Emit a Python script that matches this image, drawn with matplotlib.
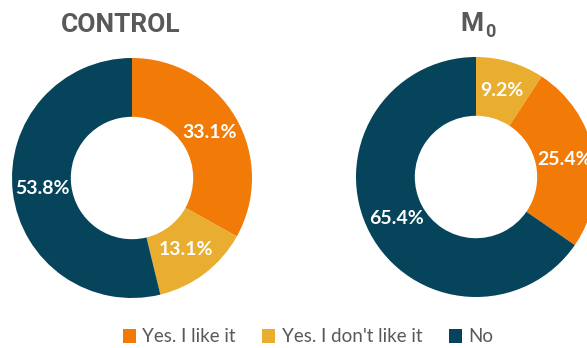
import matplotlib.pyplot as plt
from matplotlib.patches import Patch

labels = ['Yes. I like it', "Yes. I don't like it", 'No']
colors = {'Yes. I like it': '#F27A07', "Yes. I don't like it": '#E9AE2F', 'No': '#05445A'}

# clockwise order from 12 o'clock, as drawn in the source
control_labels = ['Yes. I like it', "Yes. I don't like it", 'No']
control_values = [33.1, 13.1, 53.8]
m0_labels = ["Yes. I don't like it", 'Yes. I like it', 'No']
m0_values = [9.2, 25.4, 65.4]

W, H = 587, 348
fig = plt.figure(figsize=(W / 100, H / 100), dpi=100)


def donut(cx, cy, r, names, values):
    ax = fig.add_axes([(cx - r) / W, (H - cy - r) / H, 2 * r / W, 2 * r / H])
    ax.pie(values, colors=[colors[n] for n in names], startangle=90, counterclock=False,
           radius=1, wedgeprops=dict(width=0.49, edgecolor='none'),
           autopct='%.1f%%', pctdistance=0.75,
           textprops=dict(color='white', fontsize=14, fontweight='bold', family='Lato'))
    ax.set_xlim(-1, 1)
    ax.set_ylim(-1, 1)
    ax.set_aspect('auto')
    ax.axis('off')
    return ax


donut(132, 178, 120, control_labels, control_values)
donut(476, 177, 120, m0_labels, m0_values)

fig.text(121 / W, 1 - 25 / H, 'CONTROL', ha='center', va='center', fontsize=19,
         fontweight='bold', color='#595959', family='Roboto')
fig.text(472 / W, 1 - 24 / H, 'M', ha='center', va='center', fontsize=19,
         fontweight='bold', color='#595959', family='Roboto')
fig.text(490 / W, 1 - 32 / H, '0', ha='center', va='center', fontsize=13,
         fontweight='bold', color='#595959', family='Roboto')

handles = [Patch(facecolor=colors[n], edgecolor='none', label=n) for n in labels]
fig.legend(handles=handles, loc='center', bbox_to_anchor=(308 / W, 11 / H), ncol=3,
           frameon=False, handlelength=0.7, handleheight=0.7, handletextpad=0.35,
           columnspacing=1.4, prop=dict(family='Lato', size=13.5), labelcolor='#595959')

fig.savefig('out.png', dpi=100)
